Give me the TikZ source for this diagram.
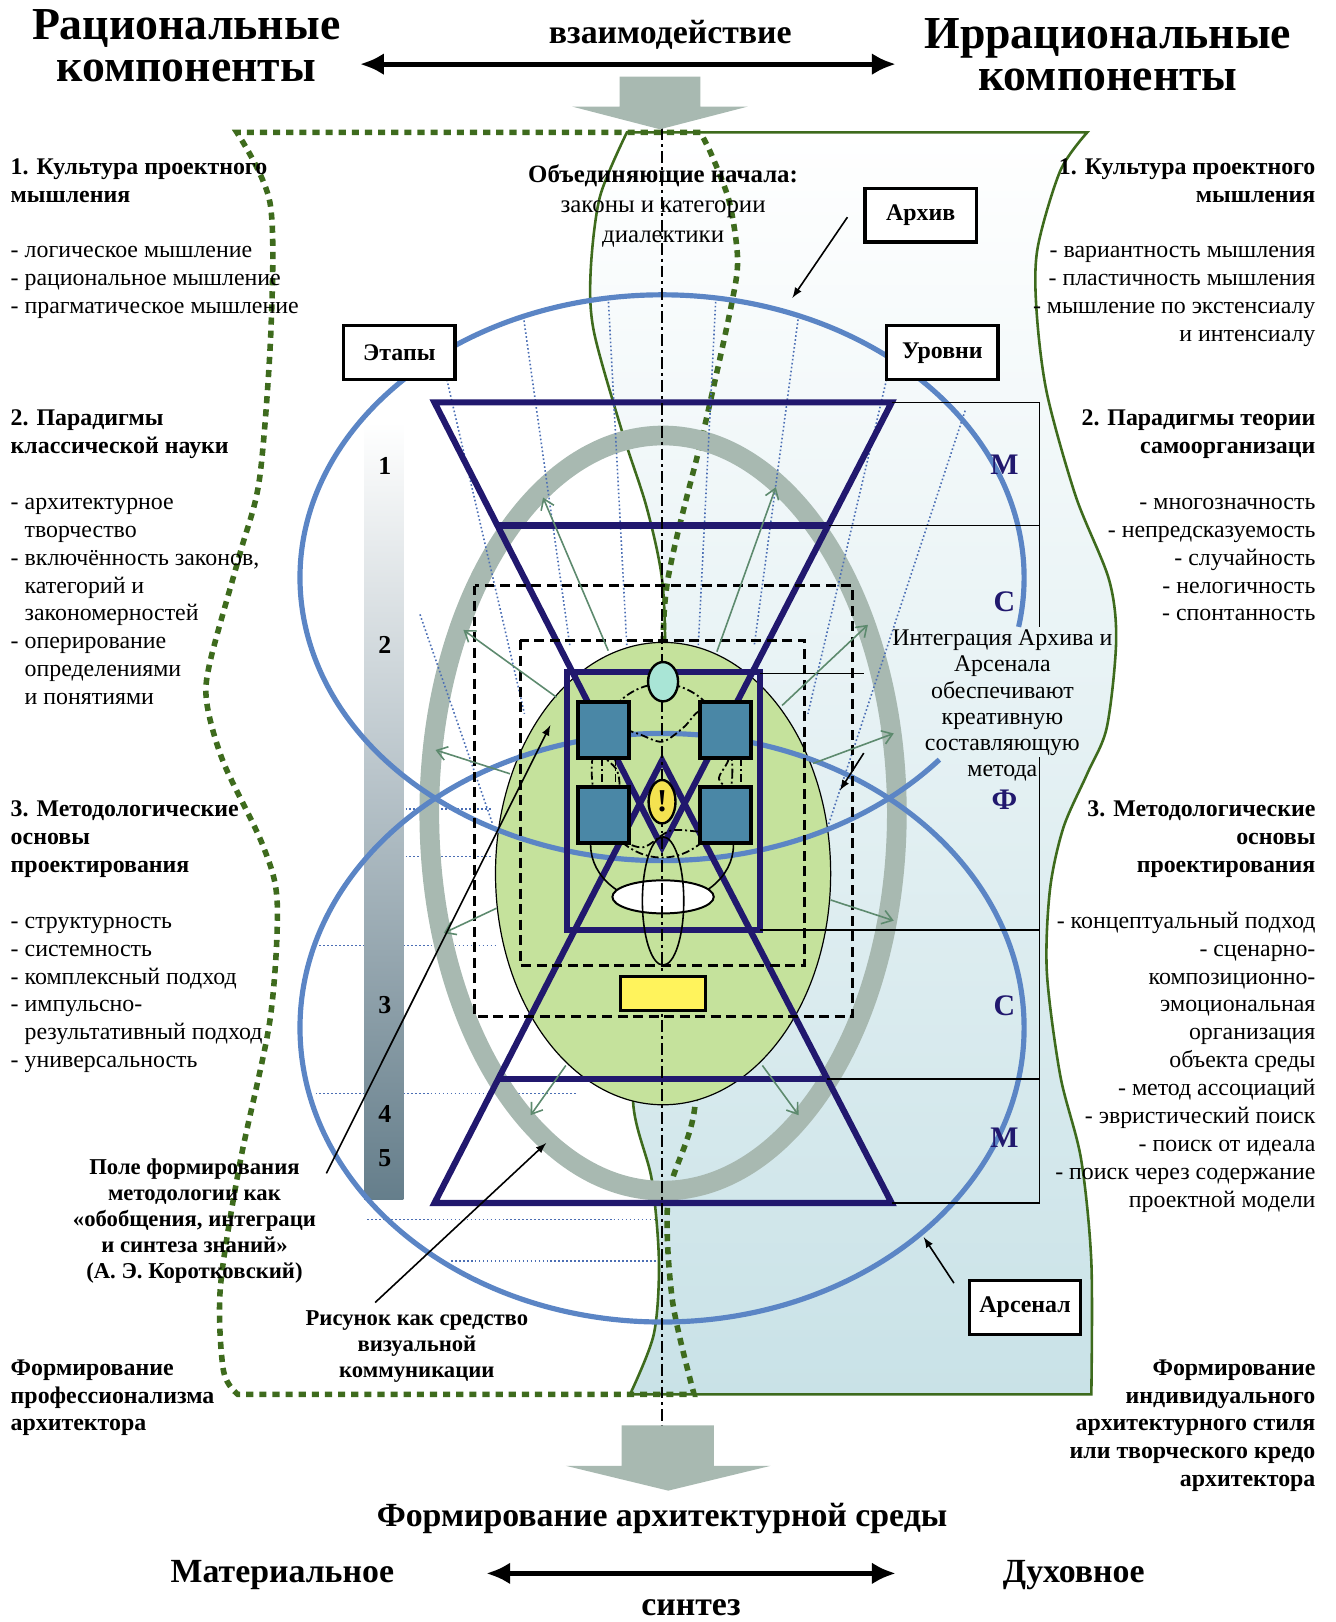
\documentclass[tikz,border=0pt]{standalone}
\usepackage{fontspec}
\setmainfont{Liberation Serif}
\usetikzlibrary{arrows.meta}
\definecolor{navy}{HTML}{21186E}
\definecolor{steel}{HTML}{5B85C5}
\definecolor{sage}{HTML}{A8B9B1}
\definecolor{moss}{HTML}{3E6B1D}
\definecolor{mint}{HTML}{C5E29C}
\definecolor{sqblue}{HTML}{4A87A6}
\definecolor{aqua}{HTML}{A9E5D6}
\definecolor{lemon}{HTML}{F4E250}
\definecolor{lemonbox}{HTML}{FFF35C}
\definecolor{arrowgreen}{HTML}{5D8A6E}
\definecolor{dotblue}{HTML}{4B6EB4}
\definecolor{paleblue}{HTML}{C9E2E7}
\definecolor{slate}{HTML}{657E8B}

\begin{document}
\begin{tikzpicture}[x=0.52pt,y=-0.52pt]
    \tikzstyle{txt}=[inner sep=0pt,font=\fontsize{12}{14.04}\selectfont]
    \tikzstyle{lines}=[draw=black,line width=0.8pt]
    \tikzstyle{vectors}=[-latex,line width=0.8pt]
    \tikzstyle{gvectors}=[-{Straight Barb[length=5pt,width=7pt]},draw=arrowgreen,line width=0.8pt]
    \tikzstyle{bigvectors}=[{Latex[length=12pt,width=11pt]}-{Latex[length=12pt,width=11pt]},line width=2.6pt]
    \tikzstyle{navylines}=[draw=navy,line width=3.1pt]
    \tikzstyle{orbit}=[draw=steel,line width=2.6pt]
    \tikzstyle{fan}=[draw=dotblue,line width=0.8pt,dash pattern=on 0.8pt off 1.2pt]
    \tikzstyle{dashbox}=[draw=black,line width=1.6pt,dash pattern=on 5pt off 2.8pt]
    \tikzstyle{dashdot}=[draw=black,line width=0.9pt,dash pattern=on 4pt off 1.5pt on 1pt off 1.5pt]
    \tikzstyle{stagebox}=[draw=black,line width=1.6pt,fill=white,minimum width=56pt,minimum height=27pt,font=\bfseries\fontsize{12}{14}\selectfont]
    \tikzstyle{levelmark}=[text=navy,font=\bfseries\fontsize{15}{15}\selectfont]
    \tikzstyle{headline}=[font=\bfseries\fontsize{23}{20.8}\selectfont,align=center,inner sep=0pt]
    \tikzstyle{bottomtitle}=[font=\bfseries\fontsize{17}{17}\selectfont,inner sep=0pt]

    \useasboundingbox (0,0) rectangle (1291,1568);

    % irrational field
    \shadedraw[top color=white,bottom color=paleblue,draw=moss,line width=1.3pt]
      (606,128) -- (1051,128)
      -- plot[smooth] coordinates {(1051,128) (1025,165) (1003,240) (1002,300) (1012,380) (1040,480) (1072,560) (1079,619) (1070,703) (1051,748) (1028,800) (1015,860) (1012,940) (1025,1040) (1045,1120) (1055,1220) (1055,1348)}
      -- (609,1348)
      -- plot[smooth] coordinates {(609,1348) (632,1290) (637,1220) (630,1140) (612,1065) (620,950) (640,800) (643,640) (640,560) (625,490) (601,416) (574,320) (571,262) (580,190) (606,128)}
      -- cycle;

    % rational field
    \draw[moss,line width=2.8pt,dash pattern=on 3.6pt off 3pt]
      (677,128) -- (229,128)
      -- plot[smooth] coordinates {(229,128) (261,196) (262,317) (251,462) (232,535) (203,640) (200,680) (216,737) (254,817) (268,873) (261,986) (232,1124) (213,1245) (216,1325) (230,1348)}
      -- (671,1348)
      -- plot[smooth] coordinates {(671,1348) (650,1257) (646,1157) (672,1067) (668,900) (645,700) (644,571) (681,413) (707,295) (713,250) (705,195) (688,150) (677,128)};

    \foreach \ya/\xa/\xb in {782/392/475, 828/392/475, 914/305/480, 1057/305/558, 1179/355/634, 1219/436/634}
      \draw[fan] (\xa,\ya) -- (\xb,\ya);

    % stages bar
    \shade[top color=white,bottom color=slate] (352,408) rectangle (390,1160);
    \foreach \n/\y in {1/450,2/623,3/972,4/1077,5/1120}
      \node[font=\bfseries\fontsize{13}{13}\selectfont] (st\n) at (372,\y) {\n};

    \draw[sage,line width=9.9pt] (641,786) ellipse[x radius=226,y radius=365];

    \foreach \xa/\ya/\xb/\yb in {432/367/507/690, 506/306/551/625, 588/288/606/625, 692/288/675/625, 772/305/729/625, 857/367/781/690, 933/397/800/800, 406/594/476/796}
      \draw[fan] (\xa,\ya) -- (\xb,\yb);

    \filldraw[fill=mint,draw=black,line width=0.6pt] (641,844.5) ellipse[x radius=162,y radius=223.5];

    \draw[orbit] (640,558.5) ++(40:350 and 273.5) arc[start angle=40,end angle=370,x radius=350,y radius=273.5];
    \draw[orbit] (640,993.5) ellipse[x radius=350,y radius=284.5];

    \draw[navylines] (420,389) -- (862,389) -- (640,819) -- cycle;
    \draw[navylines] (420,1163) -- (862,1163) -- (640,735) -- cycle;
    \draw[navylines] (481,508) -- (801,508);
    \draw[navylines] (482,1043) -- (799,1043);
    \draw[navylines] (548,650) rectangle (735,899);

    \draw[lines] (862,389) -- (1005,389) -- (1005,606);
    \draw[lines] (1005,732) -- (1005,1163) -- (862,1163);
    \draw[lines] (801,508) -- (1005,508);
    \draw[lines] (735,651) -- (835,651);
    \draw[lines] (735,899) -- (1005,899);
    \draw[lines] (799,1043) -- (1005,1043);

    \draw[dashbox] (459,566) rectangle (824,983);
    \draw[dashbox] (503,619) rectangle (778,933);

    % core of the method
    \draw[line width=0.8pt] (709,817) arc[start angle=0,end angle=180,x radius=69,y radius=56];
    \draw[dashdot] (640,745) ellipse[x radius=68,y radius=84];
    \draw[dashdot] plot[smooth cycle] coordinates {(574,712) (590,702) (616,709) (640,717) (661,703) (677,687) (701,692) (707,712) (704,735) (695,753) (707,767) (711,790) (701,804) (677,804) (648,803) (622,819) (599,812) (580,803) (583,783) (598,764) (596,744) (580,728)};
    \draw[dashdot] (582,733) -- (582,761);
    \draw[dashdot] (595,733) -- (595,761);
    \draw[dashdot] (716,733) -- (716,761);
    \filldraw[fill=white,draw=black,line width=1pt] (641,867) ellipse[x radius=49,y radius=16];
    \draw[line width=0.8pt] (641,871) ellipse[x radius=20,y radius=62];
    \coordinate (axtop) at (640,124);
    \coordinate (axbot) at (640,1378);
    \draw[line width=1.4pt,dash pattern=on 6pt off 2pt on 1.5pt off 2pt] (axtop) -- (axbot);
    \filldraw[fill=aqua,draw=black,line width=1.2pt] (641,659) ellipse[x radius=14.5,y radius=19];
    \foreach \x/\y in {559/679,677/679,559/761,677/761}
      \filldraw[fill=sqblue,draw=black,line width=2pt] (\x,\y) rectangle ++(49,54);
    \filldraw[fill=lemon,draw=black,line width=1.2pt] (640,775) ellipse[x radius=13,y radius=21];
    \node[font=\bfseries\fontsize{16}{16}\selectfont] (excl) at (640,775) {!};
    \filldraw[fill=lemonbox,draw=black,line width=1.2pt] (600,944) rectangle (682,977);

    \foreach \xa/\ya/\xb/\yb in {588/629/525/481, 693/630/750/471, 538/674/448/609, 493/748/421/725, 480/878/429/902, 756/682/839/604, 786/738/864/709, 803/870/864/890, 547/1030/513/1078, 737/1030/772/1078}
      \draw[gvectors] (\xa,\ya) -- (\xb,\yb);

    \fill[sage] (599,74) -- (677,74) -- (677,103) -- (723,103) -- (638,125) -- (553,103) -- (599,103) -- cycle;
    \fill[sage] (601,1378) -- (690,1378) -- (690,1417) -- (745,1417) -- (646,1441) -- (547,1417) -- (601,1417) -- cycle;

    \node[stagebox] (arkhiv) at (890,208) {Архив};
    \node[stagebox] (etapy) at (386,341) {Этапы};
    \node[stagebox] (urovni) at (911,341) {Уровни};
    \node[stagebox] (arsenal) at (991,1264) {Арсенал};

    \foreach \m/\y [count=\i] in {М/449,С/582,Ф/773,С/972,М/1100}
      \node[levelmark] (lev\i) at (971,\y) {\m};

    \node[txt,anchor=north,align=center,font=\fontsize{12.5}{15.3}\selectfont] (unite) at (641,155)
      {\strut\textbf{Объединяющие начала:}\\законы и категории\\диалектики};
    \node[txt,anchor=north,align=center,font=\fontsize{12}{13.2}\selectfont] (integ) at (969,606)
      {\strut Интеграция Архива и\\Арсенала\\обеспечивают\\креативную\\составляющую\\метода};
    \node[txt,anchor=north,align=center,font=\bfseries\fontsize{11.4}{13.13}\selectfont] (pole) at (188,1117)
      {\strut Поле формирования\\методологии как\\«обобщения, интеграци\\и синтеза знаний»\\(А. Э. Коротковский)};
    \node[txt,anchor=north,align=center,font=\bfseries\fontsize{11.4}{13.13}\selectfont] (risunok) at (403,1263)
      {\strut Рисунок как средство\\визуальной\\коммуникации};

    \coordinate (archtip) at (766,288);
    \coordinate (poletip) at (532,701);
    \coordinate (rtip) at (528,1105);
    \coordinate (arstip) at (893,1196);
    \coordinate (mtail) at (835,728);
    \coordinate (mtip) at (812,764);
    \draw[vectors] ([xshift=-8pt,yshift=-1pt]arkhiv.west) -- (archtip);
    \draw[vectors] ([xshift=5pt,yshift=-9pt]pole.north east) -- (poletip);
    \draw[vectors] ([xshift=-21pt,yshift=2pt]risunok.north) -- (rtip);
    \draw[vectors] ([xshift=-7pt,yshift=-2pt]arsenal.north west) -- (arstip);
    \draw[vectors] (mtail) -- (mtip);

    \node[txt,anchor=north west,align=left] (leftcol) at (10,149) {\strut\textbf{1. Культура проектного}\\
      \textbf{мышления}\\[14.04pt]
      - логическое мышление\\
      - рациональное мышление\\
      - прагматическое мышление\\[42.12pt]
      \textbf{2. Парадигмы}\\
      \textbf{классической науки}\\[14.04pt]
      - архитектурное\\
      \phantom{- }творчество\\
      - включённость законов,\\
      \phantom{- }категорий и\\
      \phantom{- }закономерностей\\
      - оперирование\\
      \phantom{- }определениями\\
      \phantom{- }и понятиями\\[42.12pt]
      \textbf{3. Методологические}\\
      \textbf{основы}\\
      \textbf{проектирования}\\[14.04pt]
      - структурность\\
      - системность\\
      - комплексный подход\\
      - импульсно-\\
      \phantom{- }результативный подход\\
      - универсальность\\[140.4pt]
      \textbf{Формирование}\\
      \textbf{профессионализма}\\
      \textbf{архитектора}};

    \node[txt,anchor=north east,align=right] (rightcol) at (1272,149) {\strut\textbf{1. Культура проектного}\\
      \textbf{мышления}\\[14.04pt]
      - вариантность мышления\\
      - пластичность мышления\\
      - мышление по экстенсиалу\\
      и интенсиалу\\[28.08pt]
      \textbf{2. Парадигмы теории}\\
      \textbf{самоорганизаци}\\[14.04pt]
      - многозначность\\
      - непредсказуемость\\
      - случайность\\
      - нелогичность\\
      - спонтанность\\[84.24pt]
      \textbf{3. Методологические}\\
      \textbf{основы}\\
      \textbf{проектирования}\\[14.04pt]
      - концептуальный подход\\
      - сценарно-\\
      композиционно-\\
      эмоциональная\\
      организация\\
      объекта среды\\
      - метод ассоциаций\\
      - эвристический поиск\\
      - поиск от идеала\\
      - поиск через содержание\\
      проектной модели\\[70.2pt]
      \textbf{Формирование}\\
      \textbf{индивидуального}\\
      \textbf{архитектурного стиля}\\
      \textbf{или творческого кредо}\\
      \textbf{архитектора}};

    \node[headline,anchor=north] (ratio) at (180,9) {\strut Рациональные\\компоненты};
    \node[headline,anchor=north] (irratio) at (1071,18) {\strut Иррациональные\\компоненты};
    \node[font=\bfseries\fontsize{17}{17}\selectfont,anchor=base,inner sep=0pt] (vzaim) at (648,42) {взаимодействие};
    \coordinate (vzl) at (348,62);
    \coordinate (vzr) at (866,62);
    \draw[bigvectors] (vzl) -- (vzr);

    \node[bottomtitle,anchor=base] (sreda) at (640,1476) {Формирование архитектурной среды};
    \node[bottomtitle,anchor=base] (mater) at (273,1530) {Материальное};
    \node[bottomtitle,anchor=base] (dukh) at (1038,1530) {Духовное};
    \node[bottomtitle,anchor=base] (sintez) at (668,1562) {синтез};
    \coordinate (snl) at (470,1521);
    \coordinate (snr) at (866,1521);
    \draw[bigvectors] (snl) -- (snr);
\end{tikzpicture}
\end{document}
